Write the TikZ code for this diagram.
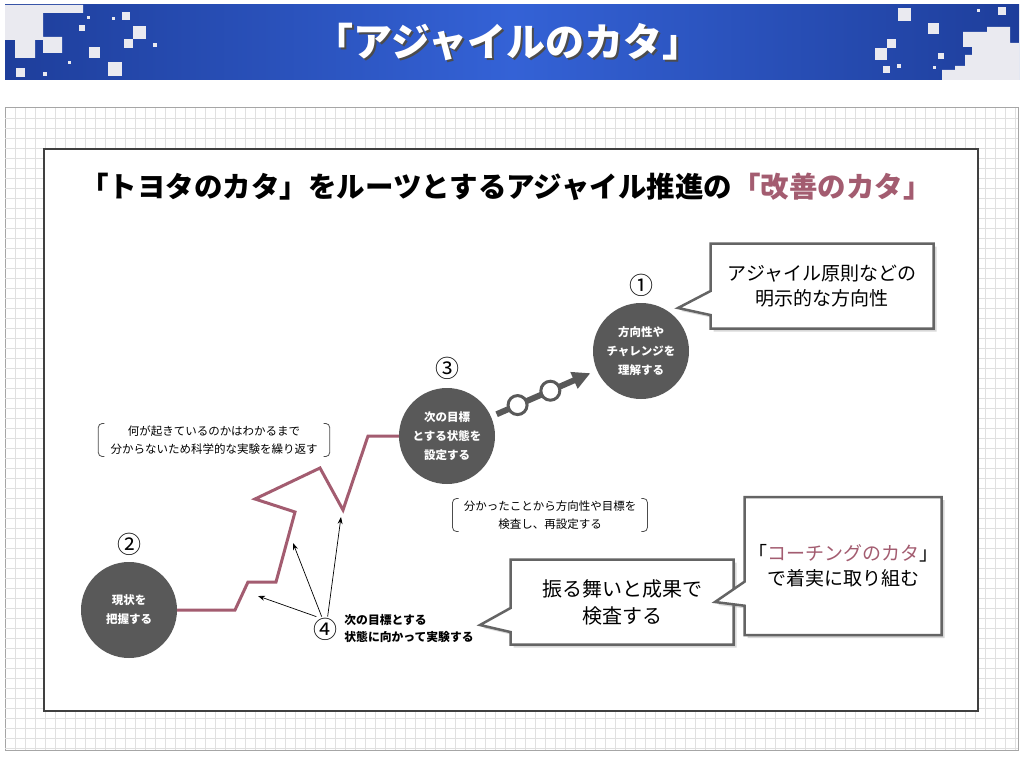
\documentclass[tikz,border=0pt]{standalone}
\usepackage{fontspec}
\setmainfont{Noto Sans CJK JP}
\usetikzlibrary{positioning, arrows.meta, shapes.callouts, shadows}
\definecolor{katablue}{RGB}{30, 62, 155}
\definecolor{katabluelight}{RGB}{52, 98, 214}
\definecolor{katarose}{RGB}{163, 92, 112}
\definecolor{stepgray}{RGB}{89, 89, 89}
\definecolor{bubblegray}{RGB}{100, 100, 100}
\definecolor{tilegray}{RGB}{234, 234, 240}

\tikzset{
  stepcircle/.style={circle, fill=stepgray, minimum size=96pt, inner sep=0pt,
    text=white, align=center, font=\fontsize{11.5}{19}\selectfont\bfseries},
  stepnum/.style={inner sep=1pt, font=\fontsize{24}{24}\selectfont},
  memo/.style={align=center, inner xsep=12pt, inner ysep=2pt,
    font=\fontsize{11.5}{18}\selectfont},
  bracketline/.style={draw=black!70, line width=0.8pt, rounded corners=4pt},
  bubble/.style={rectangle callout, draw=bubblegray, line width=2.5pt, fill=white,
    align=center, callout pointer width=24pt,
    drop shadow={shadow xshift=3pt, shadow yshift=-3pt, opacity=0.3}},
  stairline/.style={draw=katarose, line width=3pt},
  pointer/.style={draw=black, line width=0.7pt, -{Stealth[length=7pt, width=5pt]}},
  ring/.style={circle, draw=stepgray, fill=white, line width=3pt, minimum size=19pt, inner sep=0pt},
  gridline/.style={draw=black!12, line width=0.5pt}
}

\newcommand{\memobracket}[1]{%
  \draw[bracketline] ([xshift=6pt]#1.north west) -- (#1.north west) -- (#1.south west) -- ([xshift=6pt]#1.south west);
  \draw[bracketline] ([xshift=-6pt]#1.north east) -- (#1.north east) -- (#1.south east) -- ([xshift=-6pt]#1.south east);}

\begin{document}
\begin{tikzpicture}[x=1pt, y=-1pt]
\useasboundingbox (0,0) rectangle (1024,757);

% header banner
\shade[left color=katablue, right color=katablue, middle color=katabluelight] (5,5) rectangle (1019,80);
\fill[tilegray] (5,5) -- (83,5) -- (83,13) -- (43,13) -- (43,37) -- (62,37) -- (62,53) -- (43,53)
  -- (43,40) -- (35,40) -- (35,58) -- (15,58) -- (15,40) -- (5,40) -- cycle;
\fill[tilegray] (963,32) -- (987,32) -- (987,27) -- (1010,27) -- (1010,43) -- (1019,43) -- (1019,80)
  -- (942,80) -- (942,70) -- (955,70) -- (955,66) -- (965,66) -- (965,55) -- (972,55) -- (972,47) -- (963,47) -- cycle;
\foreach \sx/\sy/\ss in {122/12/8, 112/17/3, 87/16/3, 79/25/6, 133/26/13, 124/39/9, 89/47/11,
    153/43/4, 108/62/14, 16/68/9, 43/72/4, 68/61/3,
    898/8/13, 998/7/8, 977/9/3, 928/23/11, 887/39/9, 875/48/12, 938/53/6,
    883/66/7, 897/64/4, 933/66/3}
  \fill[tilegray] (\sx,\sy) rectangle ++(\ss,\ss);
\node[text=black!70, font=\fontsize{39}{39}\selectfont\bfseries] (bannershadow) at (510,44) {「アジャイルのカタ」};
\node[text=white, font=\fontsize{39}{39}\selectfont\bfseries] (banner) at (508,42) {「アジャイルのカタ」};

% grid paper and sheet
\draw[draw=black!35, fill=white, line width=1pt] (5,108) rectangle (1018,750);
\foreach \gx in {15,25,...,1015} \draw[gridline] (\gx,108) -- (\gx,750);
\foreach \gy in {118,128,...,748} \draw[gridline] (5,\gy) -- (1018,\gy);
\draw[draw=black!75, fill=white, line width=1.2pt] (44,149) rectangle (978,711);

\node[font=\fontsize{28.5}{28.5}\selectfont\bfseries] (title) at (506,187)
  {「トヨタのカタ」をルーツとするアジャイル推進の\textcolor{katarose}{「改善のカタ」}};

% steps
\node[stepcircle] (n2) at (129,610) {現状を\\把握する};
\node[stepcircle] (n3) at (447,436) {次の目標\\とする状態を\\設定する};
\node[stepcircle] (n1) at (641,351) {方向性や\\チャレンジを\\理解する};
\node[stepnum, above=5pt of n2] (l2) {②};
\node[stepnum, above=7pt of n3] (l3) {③};
\node[stepnum, above=5pt of n1] (l1) {①};

\draw[stairline] (n2.east) -- (235,610) -- (248,582) -- (276,582) -- (295,512) -- (255,499)
  -- (320,468) -- (343,510) -- (368,436) -- (n3.west);

\draw[draw=stepgray, line width=6pt, shorten <=6pt, shorten >=7pt,
  -{Triangle[length=18pt, width=17pt]}] (n3) -- (n1)
  node[ring, pos=0.25] (r1) {} node[ring, pos=0.56] (r2) {};

% experiments
\node[stepnum] (l4) at (325,629) {④};
\node[right=6pt of l4, align=left, inner sep=0pt, font=\fontsize{11.8}{17}\selectfont\bfseries] (t4)
  {次の目標とする\\状態に向かって実験する};
\coordinate (try1) at (258,596);
\coordinate (try2) at (293,543);
\coordinate (try3) at (341,517);
\draw[pointer] (l4.125) -- (try1);
\draw[pointer] (l4.105) -- (try2);
\draw[pointer] (l4.78) -- (try3);

% notes
\node[memo] (m1) at (214,440) {何が起きているのかはわかるまで\\分からないため科学的な実験を繰り返す};
\memobracket{m1}
\node[memo, inner xsep=11pt] (m2) at (550,515) {分かったことから方向性や目標を\\検査し、再設定する};
\memobracket{m2}

% callouts
\coordinate (tip1) at (678,308);
\coordinate (tip2) at (480,625);
\coordinate (tip3) at (715,602);
\node[bubble, minimum width=223pt, minimum height=85pt, callout absolute pointer={(tip1)},
  font=\fontsize{19}{25}\selectfont] (c1) at (822,286) {アジャイル原則などの\\明示的な方向性};
\node[bubble, minimum width=223pt, minimum height=85pt, callout absolute pointer={(tip2)},
  font=\fontsize{20}{27}\selectfont] (c2) at (622,602) {振る舞いと成果で\\検査する};
\node[bubble, minimum width=197pt, minimum height=138pt, callout absolute pointer={(tip3)},
  font=\fontsize{19}{25}\selectfont] (c3) at (843,566)
  {「\textcolor{katarose}{コーチングのカタ}」\\で着実に取り組む};
\end{tikzpicture}
\end{document}
